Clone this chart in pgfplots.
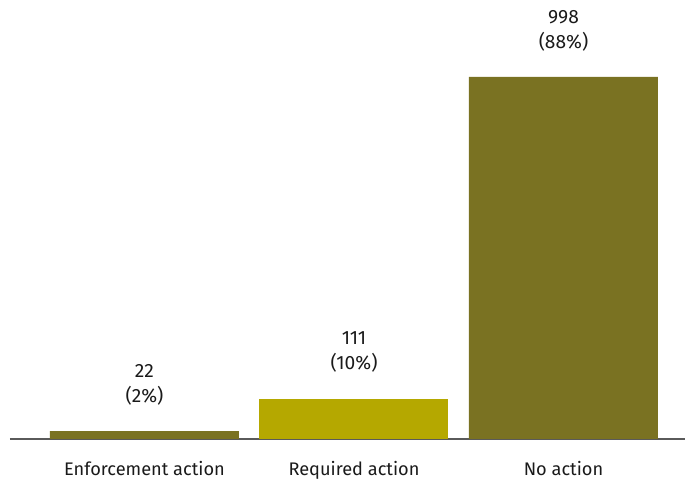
\documentclass[border=0pt]{standalone}
\usepackage{pgfplots}
\pgfplotsset{compat=1.18}
\usepackage{fontspec}
\setmainfont{Fira Sans}
\definecolor{olive1}{RGB}{122,114,34}
\definecolor{yellow1}{RGB}{181,168,0}
\definecolor{axisgray}{RGB}{90,90,90}
\definecolor{txt}{RGB}{26,26,26}
\begin{document}
\begin{tikzpicture}
\useasboundingbox (-5pt,-23pt) rectangle (337.5pt,219.5pt);
\begin{axis}[
  scale only axis,
  width=337.5pt, height=219.5pt,
  xmin=-0.642, xmax=2.58,
  ymin=0, ymax=1210,
  axis x line*=bottom,
  axis y line=none,
  x axis line style={draw=axisgray, line width=1pt, -},
  xtick={0,1,2},
  xticklabels={Enforcement action, Required action, No action},
  xtick style={draw=none},
  xticklabel style={font=\fontsize{9.1}{11}\selectfont, text=txt, yshift=-3.5pt},
  ybar, bar width=94.5pt, bar shift=0pt,
  clip=false,
]
\addplot[fill=olive1, draw=none] coordinates {(0,22) (2,998)};
\addplot[fill=yellow1, draw=none] coordinates {(1,111)};
\node[anchor=south, align=center, font=\fontsize{9.6}{12.5}\selectfont, text=txt, yshift=9.5pt] at (axis cs:0,22) {22\\(2\%)};
\node[anchor=south, align=center, font=\fontsize{9.6}{12.5}\selectfont, text=txt, yshift=9.5pt] at (axis cs:1,111) {111\\(10\%)};
\node[anchor=south, align=center, font=\fontsize{9.6}{12.5}\selectfont, text=txt, yshift=9.5pt] at (axis cs:2,998) {998\\(88\%)};
\end{axis}
\end{tikzpicture}
\end{document}
